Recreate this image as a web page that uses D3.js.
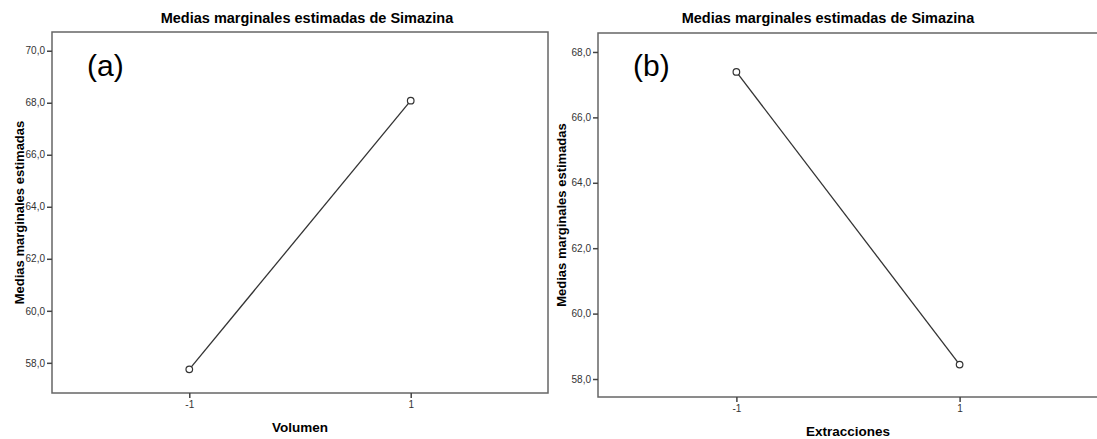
<!DOCTYPE html>
<html>
<head>
<meta charset="utf-8">
<script src="https://cdn.jsdelivr.net/npm/d3@7"></script>
<style>
  body { margin: 0; background: #fff; }
  svg { display: block; font-family: Arial, 'Liberation Sans', sans-serif; }
</style>
</head>
<body>
<div id="chart"></div>
<script>
// values
const categories = ['-1', '1'];
const volumenMeans = [57.75, 68.08];
const extraccionesMeans = [67.39, 58.44];
const yTicksA = [58, 60, 62, 64, 66, 68, 70];
const yTicksB = [58, 60, 62, 64, 66, 68];
const chartTitle = 'Medias marginales estimadas de Simazina';
const yLabel = 'Medias marginales estimadas';

const svg = d3.select('#chart')
    .append('svg')
    .attr('width', 1097)
    .attr('height', 439);

const fmt = v => d3.format('.1f')(v).replace('.', ',');

function drawPanel(opts) {
    const { left, top, width, height, values, ticks, domain, xTitle, tag, titleX, yLabelX } = opts;

    const g = svg.append('g')
        .attr('transform', `translate(${left}, ${top})`);

    const xScale = d3.scalePoint()
        .domain(categories)
        .range([0, width])
        .padding(0.62);

    const yScale = d3.scaleLinear()
        .domain(domain)
        .range([height, 0]);

    // frame
    g.append('rect')
        .attr('width', width)
        .attr('height', height)
        .style('fill', 'none')
        .style('stroke', '#666')
        .style('stroke-width', '1.5px');

    const yAxis = d3.axisLeft(yScale).tickValues(ticks).tickFormat(fmt).tickSize(5).tickPadding(2);
    const xAxis = d3.axisBottom(xScale).tickSize(5).tickPadding(3);

    g.append('g')
        .attr('class', 'y-axis')
        .call(yAxis);

    g.append('g')
        .attr('class', 'x-axis')
        .attr('transform', `translate(0, ${height})`)
        .call(xAxis);

    g.selectAll('.domain').style('display', 'none');
    g.selectAll('.tick line')
        .style('stroke', '#444')
        .style('stroke-width', '1.5px');
    g.selectAll('.tick text')
        .style('font-size', '10px')
        .style('fill', '#333')
        .style('font-family', "Arial, 'Liberation Sans', sans-serif");

    // the line
    const line = d3.line()
        .x((d, i) => xScale(categories[i]))
        .y(d => yScale(d));

    g.append('path')
        .datum(values)
        .attr('d', line)
        .style('fill', 'none')
        .style('stroke', '#333')
        .style('stroke-width', '1.3px');

    g.selectAll('.pt')
        .data(values)
        .enter()
        .append('circle')
        .attr('cx', (d, i) => xScale(categories[i]))
        .attr('cy', d => yScale(d))
        .attr('r', 3.3)
        .style('fill', '#fff')
        .style('stroke', '#333')
        .style('stroke-width', '1.2px');

    // titles
    svg.append('text')
        .attr('x', titleX)
        .attr('y', 23)
        .attr('text-anchor', 'middle')
        .style('font-size', '14.5px')
        .style('font-weight', 'bold')
        .text(chartTitle);

    svg.append('text')
        .attr('x', left + width / 2)
        .attr('y', top + height + 39)
        .attr('text-anchor', 'middle')
        .style('font-size', '13.5px')
        .style('font-weight', 'bold')
        .text(xTitle);

    svg.append('text')
        .attr('transform', `translate(${yLabelX}, ${top + height / 2}) rotate(-90)`)
        .attr('text-anchor', 'middle')
        .style('font-size', '13px')
        .style('font-weight', 'bold')
        .text(yLabel);

    svg.append('text')
        .attr('x', left + 35)
        .attr('y', 76)
        .style('font-size', '30px')
        .text(tag);
}

drawPanel({
    left: 52, top: 32, width: 496, height: 361,
    values: volumenMeans, ticks: yTicksA, domain: [56.84, 70.72],
    xTitle: 'Volumen', tag: '(a)', titleX: 307, yLabelX: 24
});

drawPanel({
    left: 598, top: 33, width: 500, height: 364,
    values: extraccionesMeans, ticks: yTicksB, domain: [57.45, 68.58],
    xTitle: 'Extracciones', tag: '(b)', titleX: 828, yLabelX: 566
});
</script>
</body>
</html>
